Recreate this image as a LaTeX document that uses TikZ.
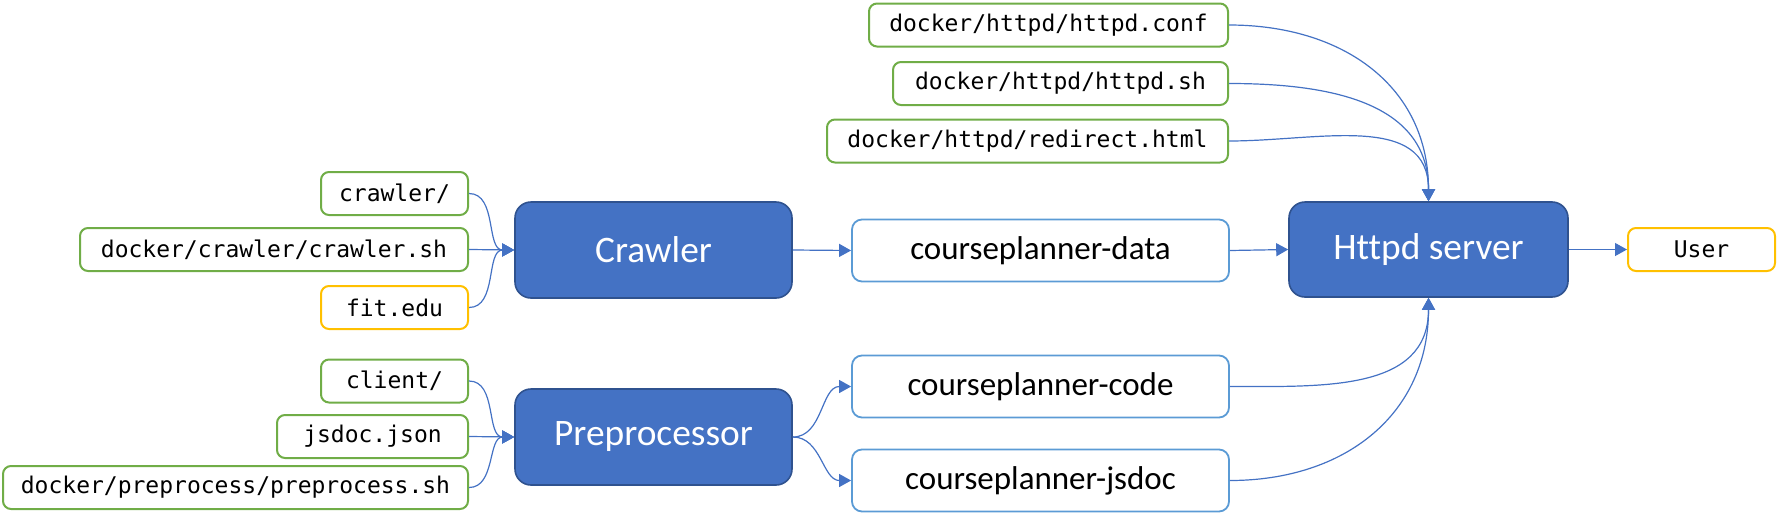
\documentclass[tikz,border=0pt]{standalone}
\usepackage{fontspec}
\setmainfont{Carlito}[Ligatures=NoCommon]
\newfontfamily\codefont{DejaVu Sans Mono}
\usetikzlibrary{arrows.meta}
\definecolor{obl}{HTML}{4472C4}
\definecolor{obd}{HTML}{2F528F}
\definecolor{ogr}{HTML}{70AD47}
\definecolor{oye}{HTML}{FFC000}
\definecolor{olb}{HTML}{5B9BD5}
\tikzset{
  filebox/.style={draw=ogr, line width=1pt, rounded corners=4pt, fill=white,
    minimum height=21.5pt, inner sep=0pt, font=\codefont\fontsize{11.5pt}{13pt}\selectfont},
  extbox/.style={filebox, draw=oye},
  procbox/.style={draw=obd, line width=0.8pt, fill=obl, rounded corners=8pt,
    minimum width=138.5pt, minimum height=48pt, inner sep=0pt, text=white,
    font=\fontsize{18.7pt}{22pt}\selectfont},
  databox/.style={draw=olb, line width=0.9pt, rounded corners=5pt, fill=white,
    minimum width=188.5pt, minimum height=31pt, inner sep=0pt,
    font=\fontsize{16.5pt}{20pt}\selectfont},
  conn/.style={draw=obl, line width=0.6pt, -{Triangle[length=6pt,width=6.5pt]}}
}
\begin{document}
\begin{tikzpicture}[x=0.5pt,y=-0.5pt]
\useasboundingbox (0,0) rectangle (1777,520);
% top httpd files
\node[filebox, minimum width=179.5pt] (conf) at (1048.5,25) {docker/httpd/httpd.conf};
\node[filebox, minimum width=167.5pt] (hsh) at (1060.5,83.5) {docker/httpd/httpd.sh};
\node[filebox, minimum width=200.5pt] (redir) at (1027.5,141) {docker/httpd/redirect.html};
% crawler inputs
\node[filebox, minimum width=73.5pt] (cdir) at (394.5,193.5) {crawler/};
\node[filebox, minimum width=194pt] (csh) at (274,249.5) {docker/crawler/crawler.sh};
\node[extbox, minimum width=73.5pt] (fit) at (394.5,307.5) {fit.edu};
% preprocessor inputs
\node[filebox, minimum width=73.5pt] (client) at (394.5,381) {client/};
\node[filebox, minimum width=95.5pt] (jsdocj) at (372.5,436.5) {jsdoc.json};
\node[filebox, minimum width=232.5pt] (psh) at (235.5,487.5) {docker/preprocess/preprocess.sh};
% processes
\node[procbox] (crawler) at (653.5,250) {Crawler};
\node[procbox] (pre) at (653.5,437) {Preprocessor};
\node[procbox, minimum width=139.5pt, minimum height=47.5pt] (httpd) at (1428.5,249.5) {Httpd server};
% data
\node[databox] (data) at (1040.5,250.5) {courseplanner-data};
\node[databox] (code) at (1040.5,386.5) {courseplanner-code};
\node[databox] (jsdoc) at (1040.5,480.5) {courseplanner-jsdoc};
% user
\node[extbox, minimum width=73.5pt] (user) at (1701.5,249.5) {User};
% connectors
\draw[conn] (cdir.east) to[out=0,in=180] (crawler.west);
\draw[conn] (csh.east) -- (crawler.west);
\draw[conn] (fit.east) to[out=0,in=180] (crawler.west);
\draw[conn] (client.east) to[out=0,in=180] (pre.west);
\draw[conn] (jsdocj.east) -- (pre.west);
\draw[conn] (psh.east) to[out=0,in=180] (pre.west);
\draw[conn] (crawler.east) -- (data.west);
\draw[conn] (pre.east) to[out=0,in=180] (code.west);
\draw[conn] (pre.east) to[out=0,in=180] (jsdoc.west);
\draw[conn] (data.east) -- (httpd.west);
\draw[conn] (httpd.east) -- (user.west);
\draw[conn] (conf.east) to[out=0,in=90,looseness=1.1] (httpd.north);
\draw[conn] (hsh.east) to[out=0,in=90,looseness=1.1] (httpd.north);
\draw[conn] (redir.east) to[out=0,in=90,looseness=1.1] (httpd.north);
\draw[conn] (code.east) to[out=0,in=-90,looseness=1.1] (httpd.south);
\draw[conn] (jsdoc.east) to[out=0,in=-90,looseness=1.1] (httpd.south);
\end{tikzpicture}
\end{document}
